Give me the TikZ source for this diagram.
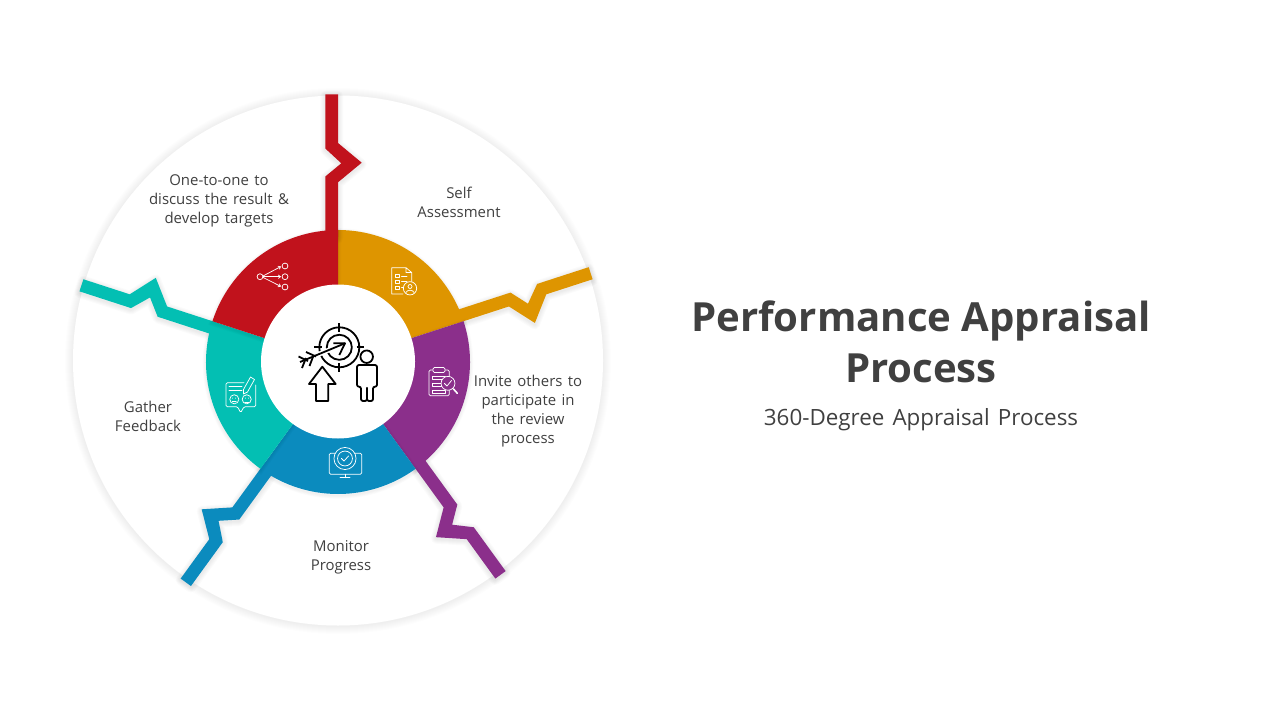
\documentclass[tikz,border=0pt]{standalone}
\usepackage{fontspec}
\setmainfont{Open Sans}
\newfontfamily\widefont[WordSpace=1.38]{Open Sans}
\usetikzlibrary{arrows.meta}
\definecolor{apred}{HTML}{C1121C}
\definecolor{apyellow}{HTML}{DE9500}
\definecolor{appurple}{HTML}{8B2F8B}
\definecolor{apblue}{HTML}{0B8BBE}
\definecolor{apteal}{HTML}{03BFB3}
\definecolor{aptext}{HTML}{404040}
\tikzset{
    bolt/.style={insert path={(-12.7,-267.7)--(0,-267.7)--(0,-219)--(23.7,-199.3)--(0,-179.7)--(0,-125)--(-12.7,-125)--(-12.7,-185.5)--(3.3,-198.7)--(-12.7,-213.5)--cycle}},
    petal/.style={insert path={(0,0)--(90:99pt) arc (90:162:99pt)--cycle}},
    lbl/.style={text=aptext,align=center,font=\widefont\fontsize{11.2}{14.25}\selectfont},
    iconw/.style={draw=white,line width=.55pt,line join=round,line cap=round},
    iconk/.style={draw=black,line width=1.35pt,line join=round}
}
\begin{document}
\begin{tikzpicture}[x=0.75pt,y=-0.75pt]
    \useasboundingbox (0,0) rectangle (1280,720);
    % outer disc
    \foreach \k in {8,7,...,1}{
        \fill[black,opacity=.008] (338,361) circle ({(265+\k)*.75pt});
    }
    \fill[white] (338,360.5) circle (198.75pt);
    % five petals with their zigzags
    \foreach \ang/\col in {-72/apyellow,-144/appurple,144/apblue,72/apteal,0/apred}{
        \begin{scope}[shift={(338,363.5)},rotate=\ang]
            \foreach \w in {2,4,...,10}{
                \draw[black,opacity=.014,line width=\w*.75pt,line join=round,bolt];
                \draw[black,opacity=.01,line width=\w*.5pt,petal];
            }
        \end{scope}
        \begin{scope}[shift={(338,362)},rotate=\ang]
            \fill[\col,bolt];
            \fill[\col,petal];
        \end{scope}
    }
    \fill[white] (338,361.5) circle (57.75pt);
    % share icon
    \begin{scope}[iconw,-{Straight Barb[length=1.6pt,width=2.6pt]}]
        \draw (263,276)--(281,266.5);
        \draw (263,276.7)--(281,276.7);
        \draw (263,277.4)--(281,286.5);
    \end{scope}
    \draw[iconw] (260,276.7) circle (2.2pt) (285,266) circle (2.2pt) (285,276.7) circle (2.2pt) (285,287) circle (2.2pt);
    % checklist icon
    \draw[iconw] (406,267.7)--(391.7,267.7)--(391.7,294)--(403,294) (406,267.7)--(411.7,272.5)--(411.7,282) (406,267.7)--(406,272.5)--(411.7,272.5);
    \foreach \yy in {276,281.7,287.7}{
        \draw[iconw] (395.7,\yy-1.7) rectangle (399,\yy+1.7);
        \draw[iconw] (401.5,\yy)--(407,\yy);
    }
    \filldraw[iconw,fill=apyellow] (410,288.3) circle (5pt);
    \draw[iconw] (410,286.5) circle (1.5pt);
    \draw[iconw] (405.8,292.5) .. controls (407,289.5) and (413,289.5) .. (414.2,292.5);
    % clipboard icon
    \draw[iconw,rounded corners=1pt] (429,370) rectangle (449.3,395.7);
    \filldraw[iconw,fill=appurple,rounded corners=1pt] (433,367.5) rectangle (445,372.5);
    \foreach \yy in {378.3,385,391.7}{
        \draw[iconw] (432,\yy-1.5) rectangle (445,\yy+1.5);
    }
    \filldraw[iconw,fill=appurple] (448,383.3) circle (5.2pt);
    \draw[iconw] (444.5,383.5)--(447,386)--(451.5,380.5);
    \draw[white,line width=1.2pt,line cap=round] (453.5,389)--(457.3,393.3);
    % monitor icon
    \draw[iconw,rounded corners=1pt] (329.3,453.3) rectangle (361.7,474.3);
    \draw[iconw] (345,474.3)--(345,477.7) (340,477.7)--(350,477.7);
    \filldraw[iconw,fill=apblue] (345,458.5) circle (8.3pt);
    \draw[iconw] (345,458.5) circle (5.6pt);
    \draw[iconw] (341.5,458.5)--(344,461)--(348.5,456);
    % feedback icon
    \draw[iconw,rounded corners=1pt] (244,382.7)--(226,382.7)--(226,406.7)--(237.5,406.7)--(240.7,412.7)--(244,406.7)--(255.7,406.7)--(255.7,385);
    \draw[iconw] (229,386.5)--(242,386.5) (229,390)--(242,390);
    \foreach \xx in {234.3,246.7}{
        \draw[iconw] (\xx,399.3) circle (3.4pt);
        \draw[iconw] (\xx-1.5,398)--(\xx-1.5,398.3) (\xx+1.5,398)--(\xx+1.5,398.3);
    }
    \draw[iconw] (232.3,401)--(236.3,401) (244.7,402)--(248.7,402);
    \filldraw[iconw,fill=apteal] (243.5,389.5)--(250.5,377)--(254.5,379.5)--(247.5,392)--(243.5,394)--cycle;
    % centre icon: target
    \draw[iconk] (339.3,347.3) circle (15pt);
    \draw[iconk] (339.3,347.3) circle (9.4pt);
    \draw[iconk] (339.3,323.3)--(339.3,331.7) (339.3,363.3)--(339.3,371.7) (314,347.3)--(321.7,347.3) (356.7,347.3)--(364,347.3);
    \draw[white,line width=3.6pt] (312,357)--(329,350);
    \draw[iconk] (300,362)--(345,343.3);
    \draw[iconk] (333.3,343.3)--(345,343.3)--(339.3,355);
    \draw[iconk] (298.5,356.5)--(308,361) (302,368)--(306,358) (306,352)--(316,356.5) (309.5,366)--(313.5,355.5);
    % centre icon: up arrow
    \draw[iconk] (322.3,366.7)--(335.7,384)--(328.3,384)--(328.3,401)--(316,401)--(316,384)--(309,384)--cycle;
    % centre icon: person
    \draw[iconk] (366.7,356.7) circle (4.7pt);
    \draw[iconk,rounded corners=1.5pt] (361,401)--(361,386.7)--(357,386.7)--(357,365)--(377,365)--(377,386.7)--(373,386.7)--(373,401)--(367,401)--(367,386.7)--(367,401)--cycle;
    % labels
    \node[lbl] (lblone) at (219,200.5) {One-to-one to\\discuss the result \&\\develop targets};
    \node[lbl] (lblself) at (459,202) {Self\\Assessment};
    \node[lbl] (lblinvite) at (528,411) {Invite others to\\participate in\\the review\\process};
    \node[lbl] (lblmonitor) at (341,557) {Monitor\\Progress};
    \node[lbl] (lblgather) at (148,416.5) {Gather\\Feedback};
    % title
    \node[text=aptext,align=center,font=\fontsize{30.1}{38.25}\selectfont\bfseries] (title) at (921,341.5) {Performance Appraisal\\Process};
    \node[text=aptext,font=\widefont\fontsize{16.8}{20}\selectfont] (subtitle) at (921,419.5) {360-Degree Appraisal Process};
\end{tikzpicture}
\end{document}
